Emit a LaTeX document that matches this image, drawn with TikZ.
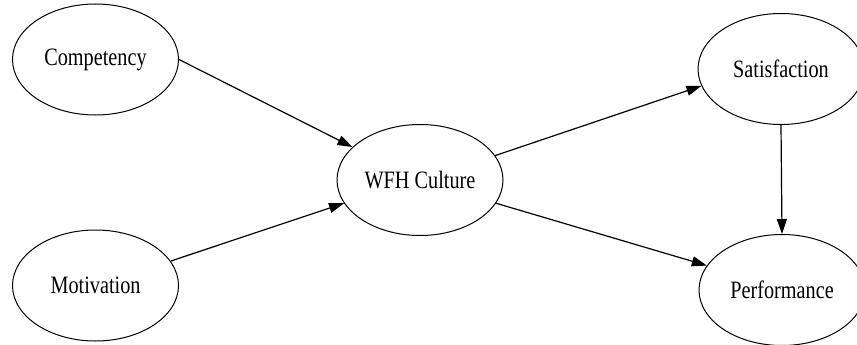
\documentclass[tikz,border=0pt]{standalone}
\usepackage{fontspec}
\setmainfont{Liberation Serif}[FakeStretch=0.81]
\usetikzlibrary{shapes.geometric,arrows.meta}
\begin{document}
\begin{tikzpicture}[x=1pt,y=-1pt,
  var/.style={draw=black,line width=1pt,ellipse,minimum width=166pt,minimum height=111pt,inner sep=0pt,font=\fontsize{25}{30}\selectfont},
  link/.style={draw=black,line width=1.2pt,-{Triangle[length=15pt,width=10pt]}}]
\useasboundingbox (0,0) rectangle (857,345);
\clip (0,0) rectangle (857,345);
\fill[white] (0,0) rectangle (857,345);
\node[var] (comp) at (95.5,59.5) {Competency};
\node[var] (moti) at (95.5,285.5) {Motivation};
\node[var] (wfh) at (420,180) {WFH Culture};
\node[var] (sat) at (781,69) {Satisfaction};
\node[var] (perf) at (782,290) {Performance};
\draw[link] (comp.east) -- (wfh.154);
\draw[link] (moti.18) -- (wfh.197);
\draw[link] (wfh.18) -- (sat.192);
\draw[link] (wfh.343) -- (perf.162);
\draw[link] (sat.south) -- (perf.north);
\end{tikzpicture}
\end{document}
